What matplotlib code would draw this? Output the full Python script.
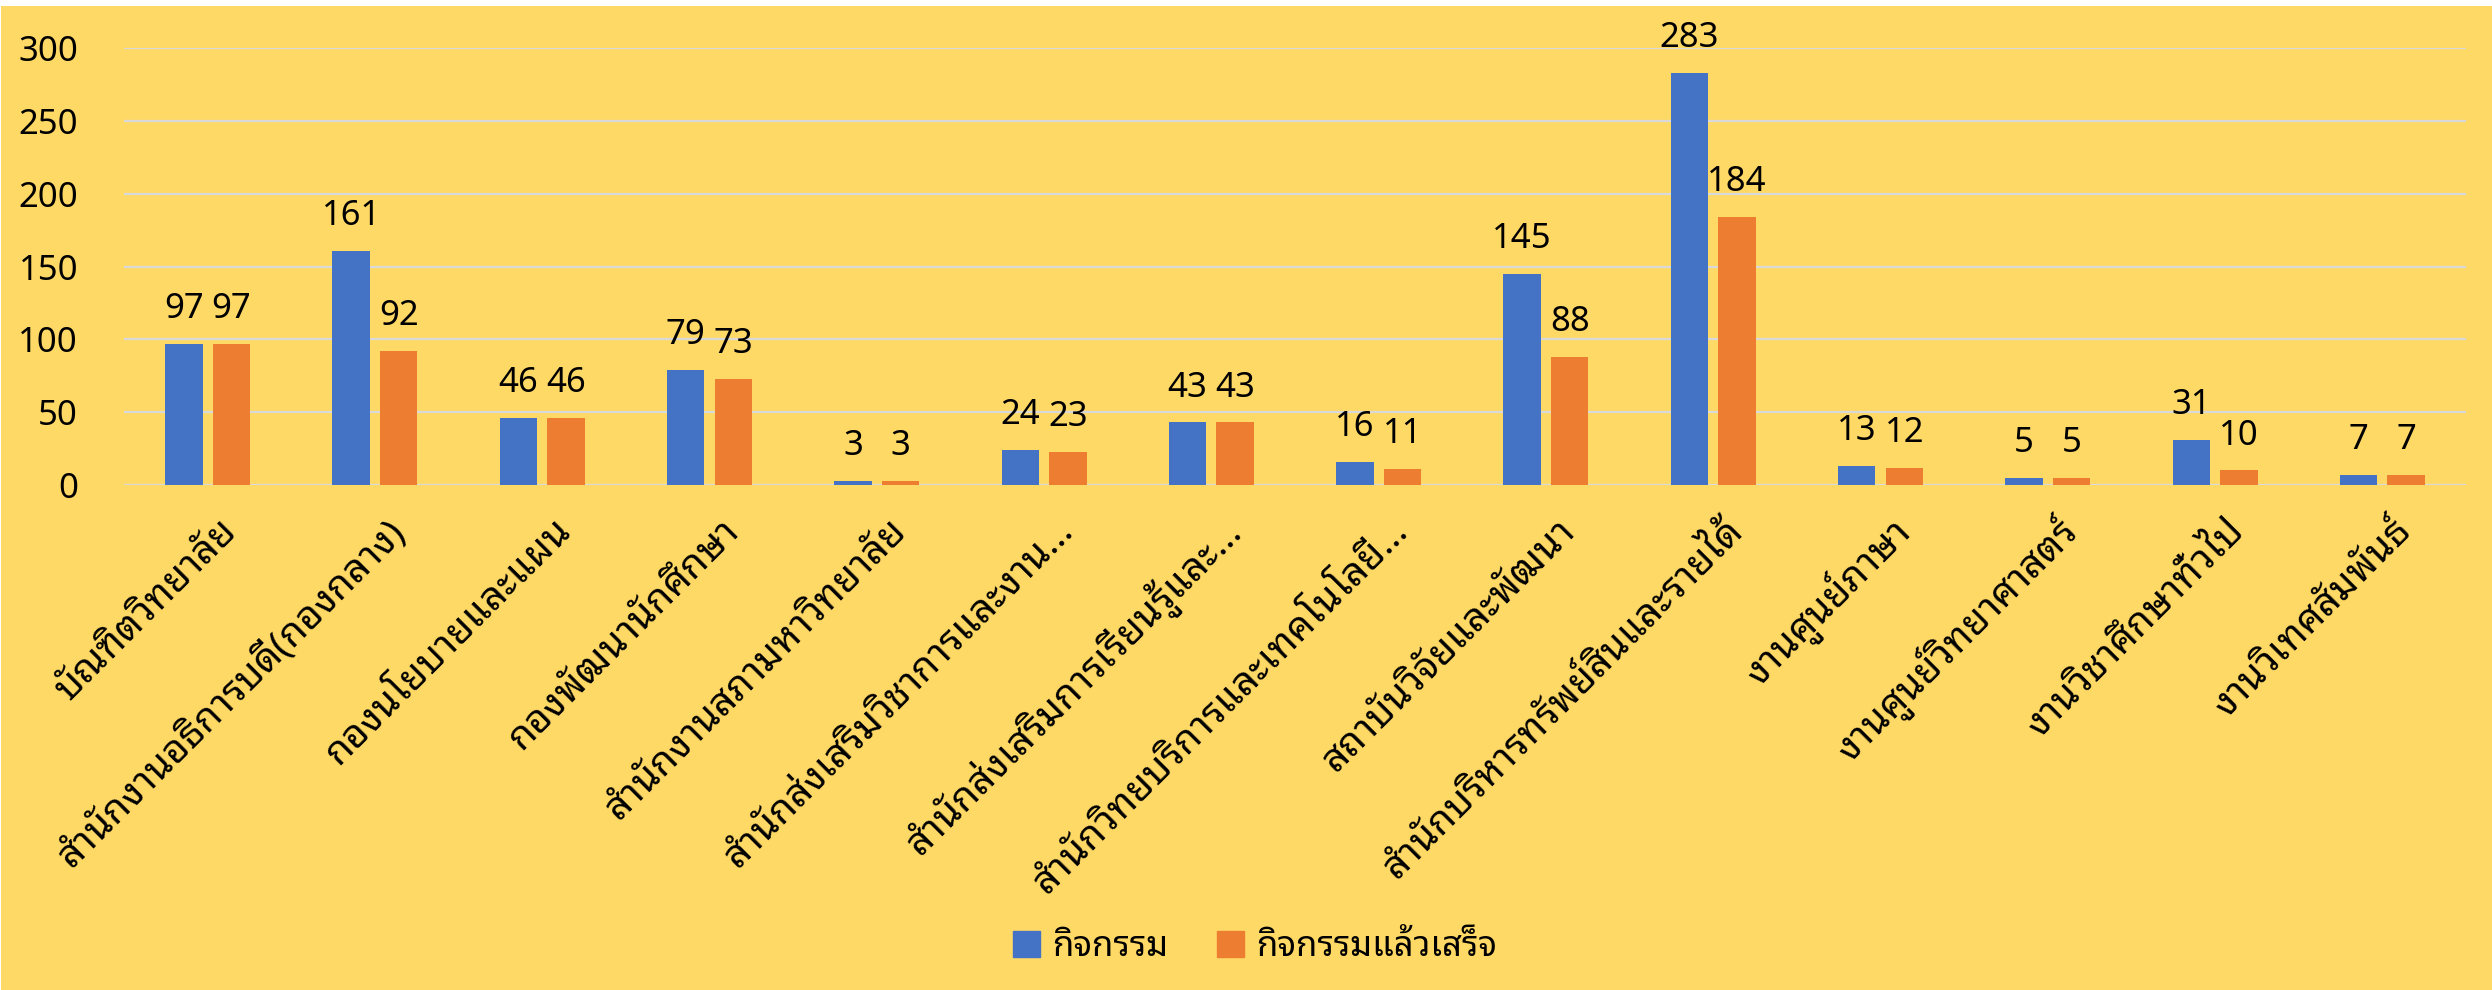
import matplotlib
matplotlib.use("Agg")
import matplotlib.pyplot as plt
from matplotlib import font_manager as fm
from matplotlib.patches import Rectangle, Patch
from matplotlib.transforms import ScaledTranslation
import numpy as np

categories = [
    "บัณฑิตวิทยาลัย",
    "สำนักงานอธิการบดี(กองกลาง)",
    "กองนโยบายและแผน",
    "กองพัฒนานักศึกษา",
    "สำนักงานสภามหาวิทยาลัย",
    "สำนักส่งเสริมวิชาการและงาน…",
    "สำนักส่งเสริมการเรียนรู้และ…",
    "สำนักวิทยบริการและเทคโนโลยี…",
    "สถาบันวิจัยและพัฒนา",
    "สำนักบริหารทรัพย์สินและรายได้",
    "งานศูนย์ภาษา",
    "งานศูนย์วิทยาศาสตร์",
    "งานวิชาศึกษาทั่วไป",
    "งานวิเทศสัมพันธ์",
]
activities = [97, 161, 46, 79, 3, 24, 43, 16, 145, 283, 13, 5, 31, 7]
completed = [97, 92, 46, 73, 3, 23, 43, 11, 88, 184, 12, 5, 10, 7]
series_names = ["กิจกรรม", "กิจกรรมแล้วเสร็จ"]
yticks = [0, 50, 100, 150, 200, 250, 300]

names = {f.name for f in fm.fontManager.ttflist}
thai_font = None
for p in ["Noto Sans Thai Looped", "Noto Sans Thai", "Loma"]:
    if p in names:
        thai_font = p
        break
plt.rcParams["font.family"] = ["Noto Sans"] + ([thai_font] if thai_font else []) + ["DejaVu Sans"]

W, H = 2492, 990
fig = plt.figure(figsize=(W / 100, H / 100), dpi=100, facecolor="white")
fig.patches.append(Rectangle((1 / W, 0), 1, (H - 6) / H, transform=fig.transFigure,
                             facecolor="#FFD966", edgecolor="none", zorder=-10))

ax = fig.add_axes([124 / W, (H - 485) / H, (2466 - 124) / W, (485 - 48.3) / H])
ax.set_facecolor("none")
x = np.arange(len(categories))
bw = 0.224
off = 0.142
b1 = ax.bar(x - off, activities, bw, color="#4472C4", zorder=3)
b2 = ax.bar(x + off, completed, bw, color="#ED7D31", zorder=3)
for bars, vals in ((b1, activities), (b2, completed)):
    for r, v in zip(bars, vals):
        ax.annotate(str(v), (r.get_x() + r.get_width() / 2, v), xytext=(0, 18.5),
                    textcoords="offset points", ha="center", va="baseline",
                    fontsize=25, color="black", annotation_clip=False)

ax.set_xlim(-0.5, len(categories) - 0.5)
ax.set_ylim(0, 300)
ax.set_yticks(yticks)
ax.set_yticklabels([str(t) for t in yticks], fontsize=25)
ax.tick_params(axis="y", length=0, pad=33)
ax.tick_params(axis="x", length=0, pad=29)
ax.yaxis.grid(True, color="#D9D9D9", linewidth=1.6, zorder=0)
ax.set_axisbelow(True)
for s in ax.spines.values():
    s.set_visible(False)
ax.set_xticks(x)
ax.set_xticklabels(categories, rotation=45, ha="right", va="center",
                   rotation_mode="anchor", fontsize=28)
for lbl in ax.get_xticklabels():
    lbl.set_transform(lbl.get_transform() + ScaledTranslation(24 / 100, 0, fig.dpi_scale_trans))

handles = [Patch(color="#4472C4"), Patch(color="#ED7D31")]
fig.legend(handles, series_names, loc="center", bbox_to_anchor=(1255 / W, 1 - 947 / H),
           ncol=2, frameon=False, fontsize=25, handlelength=0.78, handleheight=0.78,
           handletextpad=0.37, columnspacing=1.38)

fig.savefig("out.png", dpi=100, facecolor=fig.get_facecolor())
